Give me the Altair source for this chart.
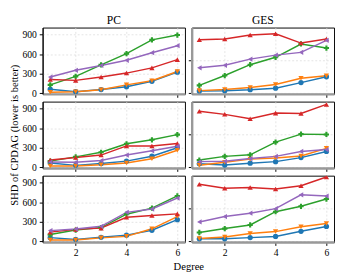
import altair as alt
import pandas as pd

degrees = [1, 2, 3, 4, 5, 6]
series = ["S1", "S2", "S3", "S4", "S5"]
colors = ["#1f77b4", "#ff7f0e", "#2ca02c", "#d62728", "#9467bd"]
shapes = ["circle", "triangle-down", "cross", "triangle-up", "triangle-left"]

# PC panels (rows top -> bottom)
pc_top = {
    "S1": [61, 23, 56, 98, 183, 323],
    "S2": [14, 23, 52, 127, 192, 333],
    "S3": [127, 258, 436, 609, 820, 895],
    "S4": [211, 197, 248, 309, 389, 516],
    "S5": [248, 352, 427, 506, 623, 731],
}
pc_mid = {
    "S1": [66, 28, 56, 94, 169, 300],
    "S2": [19, 19, 37, 66, 131, 262],
    "S3": [94, 159, 230, 361, 422, 502],
    "S4": [112, 150, 187, 328, 328, 366],
    "S5": [80, 75, 103, 187, 253, 323],
}
pc_bot = {
    "S1": [56, 28, 61, 94, 169, 333],
    "S2": [19, 19, 52, 75, 192, 380],
    "S3": [103, 173, 211, 417, 511, 698],
    "S4": [141, 183, 202, 370, 398, 422],
    "S5": [164, 188, 230, 445, 497, 666],
}
# GES panels
ges_top = {
    "S1": [75, 85, 113, 160, 330, 509],
    "S2": [85, 123, 179, 273, 462, 538],
    "S3": [245, 547, 877, 1103, 1509, 1386],
    "S4": [1641, 1660, 1782, 1820, 1537, 1660],
    "S5": [783, 858, 1047, 1169, 1254, 1622],
}
ges_mid = {
    "S1": [113, 75, 132, 179, 302, 490],
    "S2": [66, 160, 255, 292, 349, 585],
    "S3": [226, 339, 387, 773, 1018, 1009],
    "S4": [1716, 1622, 1490, 1660, 1650, 1924],
    "S5": [179, 189, 273, 339, 490, 547],
}
ges_bot = {
    "S1": [83, 83, 120, 156, 313, 460],
    "S2": [92, 138, 248, 304, 451, 552],
    "S3": [276, 396, 506, 911, 1076, 1297],
    "S4": [1748, 1628, 1647, 1601, 1702, 1969],
    "S5": [598, 764, 865, 1003, 1426, 1389],
}

pc_ticks = [0, 300, 600, 900]
ges_ticks = [0, 1000]
x_ticks = [2, 4, 6]

panels_data = {
    ("PC", 0): pc_top, ("PC", 1): pc_mid, ("PC", 2): pc_bot,
    ("GES", 0): ges_top, ("GES", 1): ges_mid, ("GES", 2): ges_bot,
}

W, H = 148, 69
GAP_X, GAP_Y = 7, 8
FONT = "Liberation Serif"


def make_df(d):
    rows = []
    for s in series:
        for x, v in zip(degrees, d[s]):
            rows.append({"series": s, "degree": x, "value": v})
    return pd.DataFrame(rows)


def panel(method, row):
    is_pc = method == "PC"
    df = make_df(panels_data[(method, row)])
    ydom = [-12, 1010] if is_pc else [-15, 2010]
    yvals = pc_ticks if is_pc else ges_ticks

    x_axis_kwargs = dict(values=x_ticks, labels=(row == 2), format="d",
                         domainColor="#999999", domainWidth=2.5)
    if row == 2 and is_pc:
        x_axis_kwargs.update(title="Degree", titleX=(2 * W + GAP_X) / 2)
    else:
        x_axis_kwargs.update(title=None)

    y_axis_kwargs = dict(values=yvals, labels=is_pc, format="d")
    if is_pc:
        y_axis_kwargs.update(domainColor="black", domainWidth=1)
    else:
        y_axis_kwargs.update(domainColor="#999999", domainWidth=2.5)
    if is_pc and row == 1:
        y_axis_kwargs.update(title="SHD of CPDAG (lower is better)")
    else:
        y_axis_kwargs.update(title=None)

    x = alt.X("degree:Q", scale=alt.Scale(domain=[0.7, 6.3], nice=False, zero=False),
              axis=alt.Axis(**x_axis_kwargs))
    y = alt.Y("value:Q", scale=alt.Scale(domain=ydom, nice=False, zero=False),
              axis=alt.Axis(**y_axis_kwargs))
    color = alt.Color("series:N", scale=alt.Scale(domain=series, range=colors), legend=None)
    shape = alt.Shape("series:N", scale=alt.Scale(domain=series, range=shapes), legend=None)

    base = alt.Chart(df).encode(x=x, y=y, color=color)
    lines = base.mark_line(strokeWidth=1.5, clip=True)
    pts = base.mark_point(filled=True, size=30, opacity=1, clip=True).encode(shape=shape)
    ch = alt.layer(lines, pts).properties(width=W, height=H)
    if row == 0:
        ch = ch.properties(title=alt.TitleParams(text=method, font=FONT, fontSize=12,
                                                 fontWeight="normal", offset=1, anchor="middle",
                                                 color="black"))
    return ch


charts = []
for r in range(3):
    charts.append(panel("PC", r))
    charts.append(panel("GES", r))

chart = alt.concat(
    *charts, columns=2, spacing={"row": GAP_Y, "column": GAP_X}, bounds="flush", padding=0
).configure_axis(
    labelFont=FONT, titleFont=FONT, labelFontSize=10, titleFontSize=11,
    titleFontWeight="normal", labelColor="black", titleColor="black",
    tickColor="black", tickSize=3.5, labelPadding=3, titlePadding=3,
    gridColor="#dddddd", gridDash=[2, 2], gridWidth=0.8,
).configure_view(stroke="black", strokeWidth=1)

chart.save("out.html", embed_options={"renderer": "svg", "actions": False})
